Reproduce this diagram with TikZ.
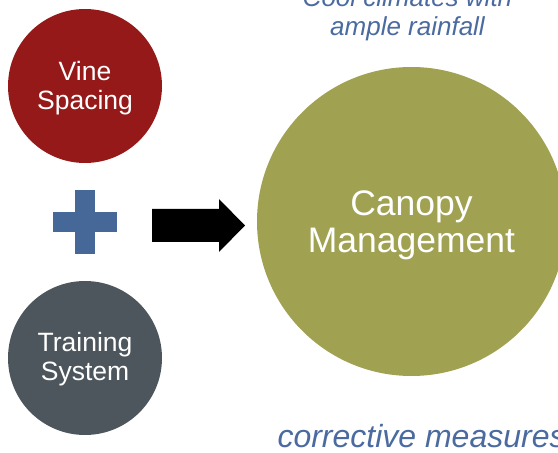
\documentclass[tikz,border=0pt]{standalone}
\usepackage{fontspec}
\setmainfont{Liberation Sans}
\begin{document}
\begin{tikzpicture}[x=1pt,y=1pt,
  disc/.style={circle,inner sep=0pt,minimum size=#1},
  disctext/.style={text=white,align=center,inner sep=0pt},
  smalllabel/.style={font=\fontsize{26.5}{29}\selectfont},
  biglabel/.style={font=\fontsize{35.5}{37}\selectfont},
  note/.style={text=noteblue,font=\fontsize{26}{29}\selectfont\itshape},
]
\definecolor{vinered}{RGB}{150,25,25}
\definecolor{slategrey}{RGB}{77,86,92}
\definecolor{olive}{RGB}{160,162,82}
\definecolor{plusblue}{RGB}{70,104,152}
\definecolor{noteblue}{RGB}{74,106,160}
\useasboundingbox (0,0) rectangle (558,453);
\clip (0,0) rectangle (558,453);

% the two inputs
\node[disc=154,fill=vinered] (spacing) at (85,367) {};
\node[disctext,smalllabel] (spacinglabel) at ([yshift=-2.5]spacing.center) {Vine\\Spacing};
\node[disc=154,fill=slategrey] (training) at (85,95) {};
\node[disctext,smalllabel] (traininglabel) at ([yshift=-1]training.center) {Training\\System};

% plus sign between them
\coordinate (plus) at (85,231);
\fill[plusblue] ([xshift=-32,yshift=-10]plus) rectangle ([xshift=32,yshift=10]plus);
\fill[plusblue] ([xshift=-10,yshift=-32]plus) rectangle ([xshift=10,yshift=32]plus);

% the result
\node[disc=309,fill=olive] (canopy) at (411.5,231.5) {};
\node[disctext,biglabel] (canopylabel) at ([yshift=-3.5]canopy.center) {Canopy\\Management};

% block arrow pointing to the result
\coordinate (tail) at (152,227.5);
\coordinate (tip) at (245,227.5);
\fill[black] ([yshift=16.5]tail) -- ([xshift=-26,yshift=16.5]tip) -- ([xshift=-26,yshift=26.5]tip)
  -- (tip) -- ([xshift=-26,yshift=-26.5]tip) -- ([xshift=-26,yshift=-16.5]tip)
  -- ([yshift=-16.5]tail) -- cycle;

% notes
\node[note,align=center,anchor=base] (climate) at (407.5,417) {Cool climates with\\ample rainfall};
\node[note,font=\fontsize{32}{36}\selectfont\itshape,anchor=base west] (measures) at (274,5) {corrective measures};
\end{tikzpicture}
\end{document}
